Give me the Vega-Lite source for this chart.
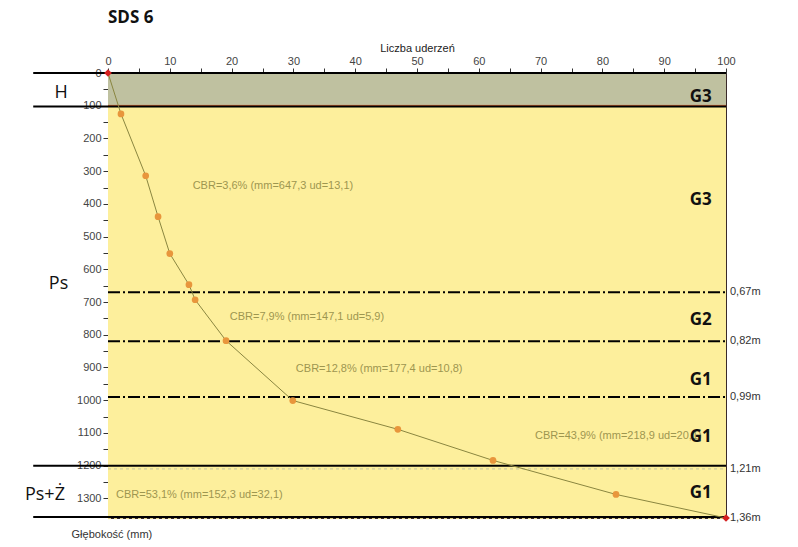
{
  "$schema": "https://vega.github.io/schema/vega-lite/v6.json",
  "width": 618,
  "height": 445,
  "autosize": {"type": "none"},
  "padding": {"left": 108, "top": 73, "right": 72, "bottom": 29},
  "background": "white",
  "config": {
    "view": {"stroke": "#3a2a2a", "strokeWidth": 1},
    "axis": {"labelOverlap": false, "labelBound": false, "labelFlush": false},
    "axisY": {"labelOverlap": false},
    "axisX": {"labelOverlap": false}
  },
  "datasets": {
    "bands": [
      {"top": 0, "bottom": 100, "layer": "H"},
      {"top": 100, "bottom": 1360, "layer": "Ps"}
    ],
    "solid": [
      {"depth": 0, "from": -12.1, "to": 100},
      {"depth": 102, "from": -12.1, "to": 100},
      {"depth": 1200, "from": -12.1, "to": 100},
      {"depth": 1357, "from": -12.1, "to": 100}
    ],
    "dashed": [
      {"depth": 670},
      {"depth": 820},
      {"depth": 990}
    ],
    "probe": [
      {"blows": 0, "depth": 0},
      {"blows": 2.1, "depth": 125},
      {"blows": 6.1, "depth": 314},
      {"blows": 8.1, "depth": 439},
      {"blows": 10, "depth": 552},
      {"blows": 13.1, "depth": 647},
      {"blows": 14.1, "depth": 693},
      {"blows": 19.1, "depth": 818},
      {"blows": 29.9, "depth": 1001},
      {"blows": 46.9, "depth": 1089},
      {"blows": 62.3, "depth": 1184},
      {"blows": 82.2, "depth": 1288},
      {"blows": 100, "depth": 1360}
    ],
    "ends": [
      {"blows": 0, "depth": 0},
      {"blows": 100, "depth": 1360}
    ],
    "cbr": [
      {"blows": 13.7, "depth": 345, "label": "CBR=3,6%  (mm=647,3 ud=13,1)"},
      {"blows": 19.7, "depth": 745, "label": "CBR=7,9%  (mm=147,1 ud=5,9)"},
      {"blows": 30.4, "depth": 906, "label": "CBR=12,8%  (mm=177,4 ud=10,8)"},
      {"blows": 69.1, "depth": 1108, "label": "CBR=43,9%  (mm=218,9 ud=20,1)"},
      {"blows": 1.3, "depth": 1291, "label": "CBR=53,1%  (mm=152,3 ud=32,1)"}
    ],
    "soil": [
      {"blows": 97.7, "depth": 72, "label": "G3"},
      {"blows": 97.7, "depth": 388, "label": "G3"},
      {"blows": 97.7, "depth": 754, "label": "G2"},
      {"blows": 97.7, "depth": 937, "label": "G1"},
      {"blows": 97.7, "depth": 1111, "label": "G1"},
      {"blows": 97.7, "depth": 1285, "label": "G1"}
    ],
    "layers": [
      {"blows": -7.6, "depth": 60, "label": "H"},
      {"blows": -8.0, "depth": 645, "label": "Ps"},
      {"blows": -10.2, "depth": 1290, "label": "Ps+Ż"}
    ],
    "marks": [
      {"depth": 670, "label": "0,67m"},
      {"depth": 820, "label": "0,82m"},
      {"depth": 990, "label": "0,99m"},
      {"depth": 1210, "label": "1,21m"},
      {"depth": 1360, "label": "1,36m"}
    ],
    "title": [{"blows": 0, "depth": -168, "label": "SDS 6"}],
    "ytitle": [{"blows": -5.9, "depth": 1412, "label": "Głębokość (mm)"}]
  },
  "encoding": {
    "x": {"type": "quantitative", "scale": {"domain": [0, 100], "nice": false, "zero": false},
      "axis": {"orient": "top", "title": "Liczba uderzeń", "values": [0,5,10,15,20,25,30,35,40,45,50,55,60,65,70,75,80,85,90,95,100],
        "labelExpr": "datum.value % 10 === 0 ? datum.label : ''", "labelOverlap": false, "grid": false, "labelFont": "Liberation Sans", "labelFontSize": 11, "labelColor": "#444",
        "titleFont": "Liberation Sans", "titleFontSize": 11, "titleFontWeight": "normal", "titleColor": "#222", "titlePadding": 2,
        "domainColor": "#222", "tickColor": "#333", "tickSize": 5, "labelPadding": 2}},
    "y": {"type": "quantitative", "scale": {"domain": [0, 1360], "nice": false, "reverse": true, "zero": false},
      "axis": {"orient": "left", "title": null, "values": [0,50,100,150,200,250,300,350,400,450,500,550,600,650,700,750,800,850,900,950,1000,1050,1100,1150,1200,1250,1300],
        "format": "d", "labelExpr": "datum.value % 100 === 0 ? datum.label : ''", "labelOverlap": false, "grid": false, "labelFont": "Liberation Sans", "labelFontSize": 11, "labelColor": "#444",
        "domainColor": "#9a5a5a", "tickColor": "#333", "tickSize": 5, "labelPadding": 2}}
  },
  "layer": [
    {
      "data": {"name": "bands"},
      "mark": {"type": "rect", "clip": true},
      "encoding": {
        "x": {"datum": 0, "type": "quantitative"},
        "x2": {"datum": 100},
        "y": {"field": "top", "type": "quantitative"},
        "y2": {"field": "bottom"},
        "color": {"field": "layer", "type": "nominal", "scale": {"domain": ["H", "Ps"], "range": ["#bfc1a0", "#fdef9c"]}, "legend": null}
      }
    },
    {
      "data": {"values": [{"depth": 99}]},
      "mark": {"type": "rule", "color": "#e0602a", "strokeWidth": 1},
      "encoding": {"y": {"field": "depth", "type": "quantitative"}, "x": {"datum": 0}, "x2": {"datum": 100}}
    },
    {
      "data": {"values": [{"depth": 1210, "c": "g"}, {"depth": 1362, "c": "r"}]},
      "mark": {"type": "rule", "strokeWidth": 1, "strokeDash": [3, 3]},
      "encoding": {"y": {"field": "depth", "type": "quantitative"}, "x": {"datum": 0}, "x2": {"datum": 100},
        "color": {"field": "c", "type": "nominal", "scale": {"domain": ["g", "r"], "range": ["#c8b878", "#e04040"]}, "legend": null}}
    },
    {
      "data": {"name": "solid"},
      "mark": {"type": "rule", "color": "#000", "strokeWidth": 2},
      "encoding": {"y": {"field": "depth", "type": "quantitative"}, "x": {"field": "from", "type": "quantitative"}, "x2": {"field": "to"}}
    },
    {
      "data": {"name": "dashed"},
      "mark": {"type": "rule", "color": "#000", "strokeWidth": 2, "strokeDash": [12, 3, 2, 3]},
      "encoding": {"y": {"field": "depth", "type": "quantitative"}, "x": {"datum": 0}, "x2": {"datum": 100}}
    },
    {
      "data": {"name": "probe"},
      "mark": {"type": "line", "color": "#8a8640", "strokeWidth": 1, "interpolate": "linear"},
      "encoding": {"x": {"field": "blows", "type": "quantitative"}, "y": {"field": "depth", "type": "quantitative"}}
    },
    {
      "data": {"name": "probe"},
      "transform": [{"filter": "datum.blows > 0 && datum.blows < 100"}],
      "mark": {"type": "circle", "color": "#e8963c", "opacity": 1, "size": 45},
      "encoding": {"x": {"field": "blows", "type": "quantitative"}, "y": {"field": "depth", "type": "quantitative"}}
    },
    {
      "data": {"name": "ends"},
      "mark": {"type": "point", "shape": "diamond", "filled": true, "color": "#d42020", "opacity": 1, "size": 60},
      "encoding": {"x": {"field": "blows", "type": "quantitative"}, "y": {"field": "depth", "type": "quantitative"}}
    },
    {
      "data": {"name": "cbr"},
      "mark": {"type": "text", "align": "left", "baseline": "middle", "font": "Liberation Sans", "fontSize": 11, "color": "#9d9650"},
      "encoding": {"x": {"field": "blows", "type": "quantitative"}, "y": {"field": "depth", "type": "quantitative"}, "text": {"field": "label"}}
    },
    {
      "data": {"name": "soil"},
      "mark": {"type": "text", "align": "right", "baseline": "middle", "font": "Open Sans", "fontSize": 17, "fontWeight": "bold", "color": "#111"},
      "encoding": {"x": {"field": "blows", "type": "quantitative"}, "y": {"field": "depth", "type": "quantitative"}, "text": {"field": "label"}}
    },
    {
      "data": {"name": "layers"},
      "mark": {"type": "text", "align": "center", "baseline": "middle", "font": "Open Sans", "fontSize": 18, "color": "#111"},
      "encoding": {"x": {"field": "blows", "type": "quantitative"}, "y": {"field": "depth", "type": "quantitative"}, "text": {"field": "label"}}
    },
    {
      "data": {"name": "marks"},
      "mark": {"type": "text", "align": "left", "baseline": "middle", "font": "Liberation Sans", "fontSize": 11, "color": "#333", "dx": 4},
      "encoding": {"x": {"datum": 100}, "y": {"field": "depth", "type": "quantitative"}, "text": {"field": "label"}}
    },
    {
      "data": {"name": "title"},
      "mark": {"type": "text", "align": "left", "baseline": "middle", "font": "Open Sans", "fontSize": 17, "fontWeight": "bold", "color": "#111"},
      "encoding": {"x": {"field": "blows", "type": "quantitative"}, "y": {"field": "depth", "type": "quantitative"}, "text": {"field": "label"}}
    },
    {
      "data": {"name": "ytitle"},
      "mark": {"type": "text", "align": "left", "baseline": "middle", "font": "Liberation Sans", "fontSize": 11, "color": "#333"},
      "encoding": {"x": {"field": "blows", "type": "quantitative"}, "y": {"field": "depth", "type": "quantitative"}, "text": {"field": "label"}}
    }
  ]
}
